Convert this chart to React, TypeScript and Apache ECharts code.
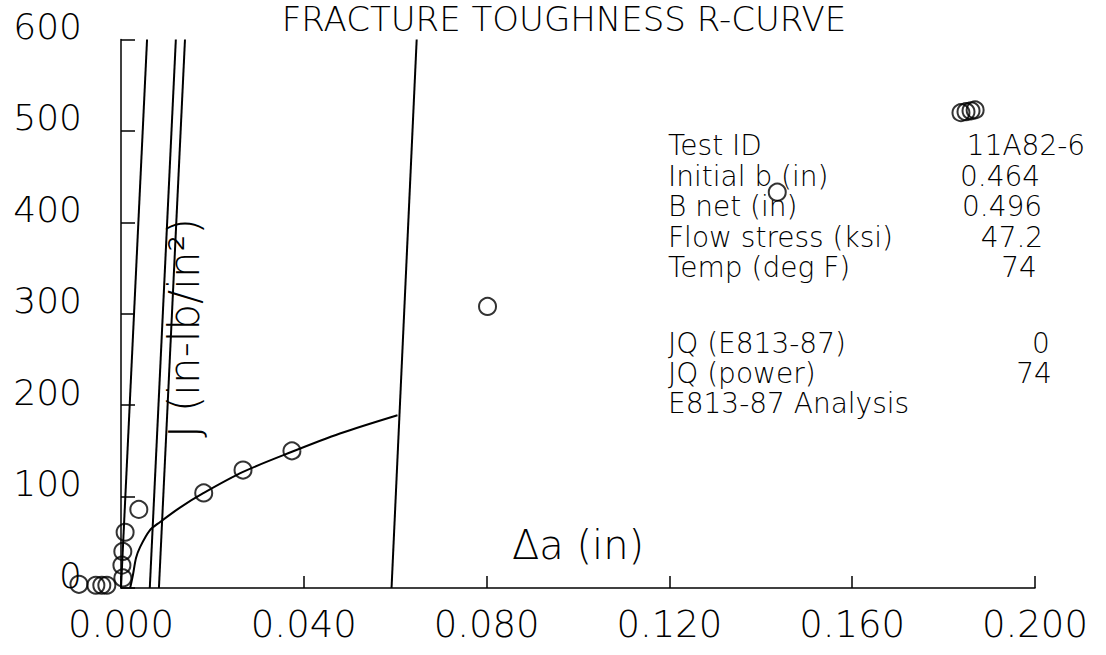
import React, { useEffect, useRef } from "react";
import * as echarts from "echarts";

// ---- data ----
const titleText = "FRACTURE TOUGHNESS R-CURVE";
const xAxisName = "Δa (in)";
const yAxisName = "J (in-lb/in²)";

const xMin = 0;
const xMax = 0.2;
const xStep = 0.04;
const yMin = 0;
const yMax = 600;
const yStep = 100;

// measured data points (crack extension, J)
const pointDeltaA = [
  -0.0092, -0.0055, -0.0042, -0.0031, 0.0004, 0.0002, 0.0004, 0.0009, 0.0039,
  0.0181, 0.0267, 0.0374, 0.0802, 0.1436, 0.1838, 0.1849, 0.186, 0.1869,
];
const pointJ = [4, 3, 3, 3, 11, 25, 40, 61, 86, 104, 129, 150, 308, 433, 520, 521, 522, 523];

// fitted power-law R-curve
const curveDeltaA = [0.002, 0.0026, 0.0033, 0.0042, 0.0063, 0.0085, 0.0129, 0.0181, 0.0267, 0.0374, 0.0479, 0.0605];
const curveJ = [0, 14, 33, 45, 63, 72, 88, 104, 127, 149, 169, 189];

// construction lines (blunting line and offset/exclusion lines): [start Δa, end Δa], J from 0 to 600
const lineNames = ["blunting", "offset 1", "offset 2", "exclusion"];
const lineStartDeltaA = [0.0, 0.0063, 0.0083, 0.0592];
const lineEndDeltaA = [0.0057, 0.012, 0.014, 0.0647];
const lineJ = [0, 600];

// annotation block
const infoLabels = ["Test ID", "Initial b (in)", "B net (in)", "Flow stress (ksi)", "Temp (deg F)", "JQ (E813-87)", "JQ (power)", "E813-87 Analysis"];
const infoValues = ["11A82-6", "0.464", "0.496", "47.2", "74", "0", "74", ""];

const FONT = '"DejaVu Sans", sans-serif';
const W = 200;

export default function App() {
  const ref = useRef<HTMLDivElement>(null);

  useEffect(() => {
    document.body.style.margin = "0";
    if (!ref.current) return;
    const chart = echarts.init(ref.current, undefined, { renderer: "svg" });

    const rowY = [145, 176, 206, 237, 267, 343, 373, 403];
    const valueX = [1026, 1000, 1002, 1012, 1019, 1041, 1034, 0];

    const txt = (text: string, x: number, y: number, size: number, align: string, rotation = 0) => ({
      type: "text",
      x,
      y,
      rotation,
      style: {
        text,
        font: `${W} ${size}px ${FONT}`,
        fill: "#000",
        align,
        verticalAlign: "middle",
        textAlign: align,
        textVerticalAlign: "middle",
      },
    });

    const graphics: any[] = [];
    graphics.push(txt(titleText, 564, 19, 34, "center"));
    infoLabels.forEach((t, i) => {
      graphics.push(txt(t, 668, rowY[i], 28, "left"));
      if (infoValues[i]) graphics.push(txt(infoValues[i], valueX[i], rowY[i], 28, "center"));
    });
    graphics.push(txt(xAxisName, 578, 545, 40, "center"));
    graphics.push(txt(yAxisName, 184, 328, 42, "center", Math.PI / 2));

    const lineSeries = lineNames.map((n, i) => ({
      name: n,
      type: "line",
      data: [
        [lineStartDeltaA[i], lineJ[0]],
        [lineEndDeltaA[i], lineJ[1]],
      ],
      showSymbol: false,
      symbol: "none",
      lineStyle: { color: "#000", width: 2 },
      clip: false,
      silent: true,
    }));

    const option: any = {
      animation: false,
      backgroundColor: "#fff",
      grid: { left: 121, right: 71, top: 39.5, bottom: 67, containLabel: false },
      xAxis: {
        type: "value",
        min: xMin,
        max: xMax,
        interval: xStep,
        axisLine: { show: true, onZero: false, lineStyle: { color: "#000", width: 1.5 } },
        axisTick: { show: true, inside: true, length: 12, lineStyle: { color: "#000", width: 1.5 } },
        axisLabel: {
          color: "#000",
          fontFamily: FONT,
          fontWeight: W,
          fontSize: 37,
          margin: 18,
          showMinLabel: true,
          showMaxLabel: true,
          formatter: (v: number) => v.toFixed(3),
        },
        splitLine: { show: false },
      },
      yAxis: {
        type: "value",
        min: yMin,
        max: yMax,
        interval: yStep,
        axisLine: { show: true, onZero: false, lineStyle: { color: "#000", width: 1.5 } },
        axisTick: { show: true, inside: true, length: 14, lineStyle: { color: "#000", width: 1.5 } },
        axisLabel: {
          color: "#000",
          fontFamily: FONT,
          fontWeight: W,
          fontSize: 36,
          margin: 39,
          verticalAlign: "bottom",
          lineHeight: 26,
          showMinLabel: true,
          showMaxLabel: true,
          formatter: (v: number) => String(Math.round(v)),
        },
        splitLine: { show: false },
      },
      graphic: graphics,
      series: [
        {
          name: "R-curve fit",
          type: "line",
          data: curveDeltaA.map((x, i) => [x, curveJ[i]]),
          smooth: 0.3,
          showSymbol: false,
          symbol: "none",
          lineStyle: { color: "#000", width: 2 },
          silent: true,
        },
        ...lineSeries,
        {
          name: "data",
          type: "scatter",
          data: pointDeltaA.map((x, i) => [x, pointJ[i]]),
          symbol: "circle",
          symbolSize: 17,
          clip: false,
          itemStyle: { color: "rgba(0,0,0,0)", borderColor: "#000", borderWidth: 2 },
          silent: true,
        },
      ],
    };

    chart.setOption(option);
    return () => chart.dispose();
  }, []);

  return <div ref={ref} style={{ width: 1106, height: 655 }} />;
}
